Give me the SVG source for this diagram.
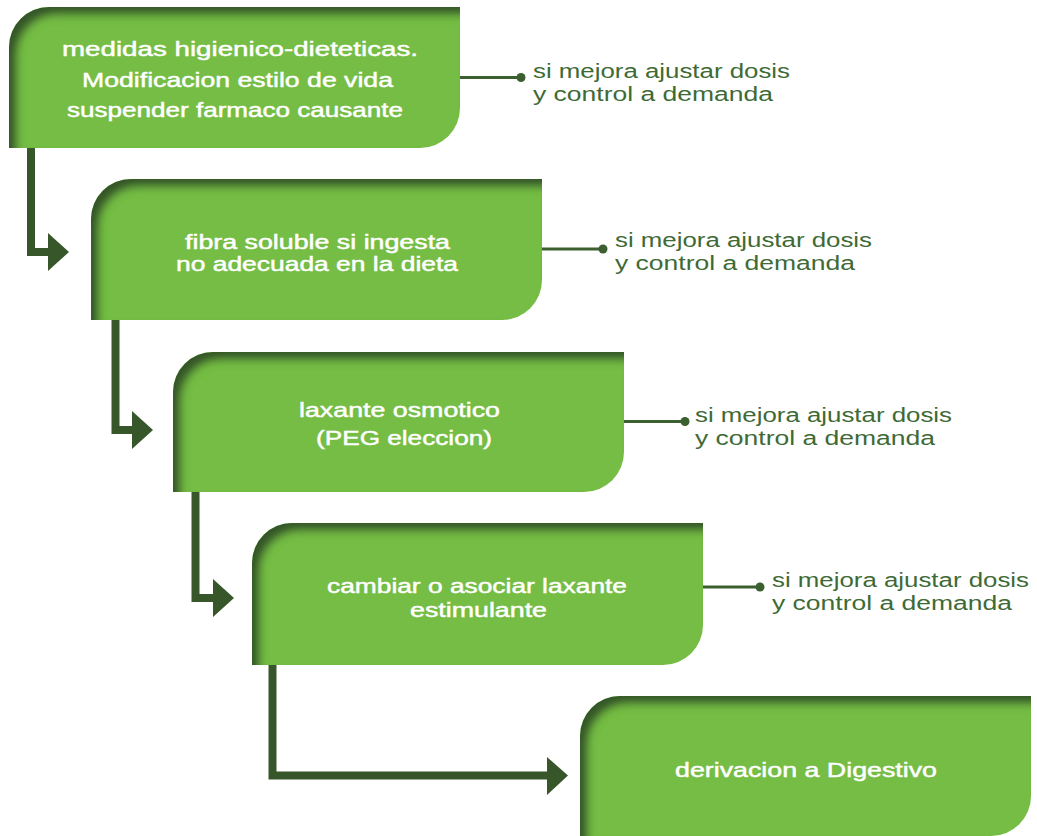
<svg xmlns="http://www.w3.org/2000/svg" width="1037" height="836" viewBox="0 0 1037 836">
  <style>
    .box { fill: #75bd44; filter: url(#inset); }
    .bt { font-family: "Liberation Sans", Arial, sans-serif; font-weight: 400; font-size: 20px; fill: #ffffff; stroke: #ffffff; stroke-width: 0.45px; text-anchor: middle; }
    .lt { font-family: "Liberation Sans", Arial, sans-serif; font-weight: 400; font-size: 20px; fill: #3e6a35; }
    .conn { fill: none; stroke: #37572b; stroke-width: 8; }
    .head { fill: #37572b; }
    .side { stroke: #3c5f2f; stroke-width: 3; fill: none; }
    .dot { fill: #3c5f2f; }
  </style>
  <defs>
    <filter id="inset" x="-5%" y="-10%" width="110%" height="120%">
      <feOffset in="SourceAlpha" dx="8" dy="8" result="off"/>
      <feGaussianBlur in="off" stdDeviation="4.5" result="blur"/>
      <feComposite in="SourceAlpha" in2="blur" operator="arithmetic" k2="1" k3="-1" result="edge"/>
      <feFlood flood-color="#35552a" result="col"/>
      <feComposite in="col" in2="edge" operator="in" result="shadow"/>
      <feMerge>
        <feMergeNode in="SourceGraphic"/>
        <feMergeNode in="shadow"/>
      </feMerge>
    </filter>
  </defs>

  <g id="connectors">
    <path class="conn" d="M31,146 V252 H50"/>
    <polygon class="head" points="48,233 69,252 48,271"/>
    <path class="conn" d="M115.5,318 V430 H134"/>
    <polygon class="head" points="132,411 153,430 132,449"/>
    <path class="conn" d="M195.5,490 V598 H215"/>
    <polygon class="head" points="213,579 234,598 213,617"/>
    <path class="conn" d="M272.5,663 V775.5 H549"/>
    <polygon class="head" points="547,757 568,775.5 547,795"/>

    <line class="side" x1="460" y1="77.5" x2="521" y2="77.5"/>
    <circle class="dot" cx="521" cy="77.5" r="4.5"/>
    <line class="side" x1="542" y1="249" x2="603" y2="249"/>
    <circle class="dot" cx="603" cy="249" r="4.5"/>
    <line class="side" x1="624" y1="421.5" x2="685" y2="421.5"/>
    <circle class="dot" cx="685" cy="421.5" r="4.5"/>
    <line class="side" x1="703" y1="587" x2="760" y2="587"/>
    <circle class="dot" cx="760" cy="587" r="4.5"/>
  </g>

  <g id="node1">
    <path class="box" d="M9,47 A40,40 0 0 1 49,7 H460 V108 A40,40 0 0 1 420,148 H9 Z"/>
    <text class="bt" x="240" y="56" textLength="356" lengthAdjust="spacingAndGlyphs">medidas higienico-dieteticas.</text>
    <text class="bt" x="237.5" y="87" textLength="311" lengthAdjust="spacingAndGlyphs">Modificacion estilo de vida</text>
    <text class="bt" x="235" y="117" textLength="336" lengthAdjust="spacingAndGlyphs">suspender farmaco causante</text>
  </g>
  <g id="label1">
    <text class="lt" x="533" y="78" textLength="257" lengthAdjust="spacingAndGlyphs">si mejora ajustar dosis</text>
    <text class="lt" x="533" y="101" textLength="240" lengthAdjust="spacingAndGlyphs">y control a demanda</text>
  </g>

  <g id="node2">
    <path class="box" d="M91,219 A40,40 0 0 1 131,179 H542 V280 A40,40 0 0 1 502,320 H91 Z"/>
    <text class="bt" x="317.5" y="249" textLength="265" lengthAdjust="spacingAndGlyphs" style="font-size:19.5px">fibra soluble si ingesta</text>
    <text class="bt" x="317" y="271" textLength="282" lengthAdjust="spacingAndGlyphs" style="font-size:19.5px">no adecuada en la dieta</text>
  </g>
  <g id="label2">
    <text class="lt" x="615" y="247" textLength="257" lengthAdjust="spacingAndGlyphs">si mejora ajustar dosis</text>
    <text class="lt" x="615" y="270" textLength="240" lengthAdjust="spacingAndGlyphs">y control a demanda</text>
  </g>

  <g id="node3">
    <path class="box" d="M173,392 A40,40 0 0 1 213,352 H624 V452 A40,40 0 0 1 584,492 H173 Z"/>
    <text class="bt" x="399.5" y="417" textLength="201" lengthAdjust="spacingAndGlyphs">laxante osmotico</text>
    <text class="bt" x="404" y="445" textLength="176" lengthAdjust="spacingAndGlyphs">(PEG eleccion)</text>
  </g>
  <g id="label3">
    <text class="lt" x="695" y="422" textLength="257" lengthAdjust="spacingAndGlyphs">si mejora ajustar dosis</text>
    <text class="lt" x="695" y="445" textLength="240" lengthAdjust="spacingAndGlyphs">y control a demanda</text>
  </g>

  <g id="node4">
    <path class="box" d="M252,563 A40,40 0 0 1 292,523 H703 V625 A40,40 0 0 1 663,665 H252 Z"/>
    <text class="bt" x="477" y="593" textLength="300" lengthAdjust="spacingAndGlyphs">cambiar o asociar laxante</text>
    <text class="bt" x="478.5" y="617" textLength="137" lengthAdjust="spacingAndGlyphs">estimulante</text>
  </g>
  <g id="label4">
    <text class="lt" x="772" y="587" textLength="257" lengthAdjust="spacingAndGlyphs">si mejora ajustar dosis</text>
    <text class="lt" x="772" y="610" textLength="240" lengthAdjust="spacingAndGlyphs">y control a demanda</text>
  </g>

  <g id="node5">
    <path class="box" d="M580,736 A40,40 0 0 1 620,696 H1031 V796 A40,40 0 0 1 991,836 H580 Z"/>
    <text class="bt" x="806" y="777" textLength="262" lengthAdjust="spacingAndGlyphs">derivacion a Digestivo</text>
  </g>
</svg>
